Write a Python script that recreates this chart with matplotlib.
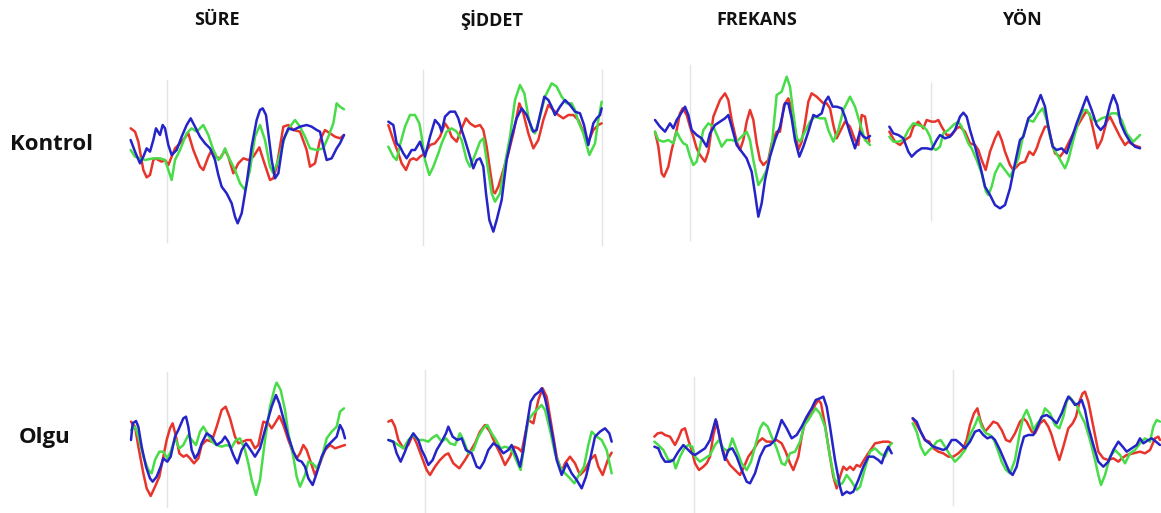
import matplotlib
matplotlib.use('Agg')
import matplotlib.pyplot as plt

# Column and row names
conditions = ['SÜRE', 'ŞİDDET', 'FREKANS', 'YÖN']
groups = ['Kontrol', 'Olgu']

# Grand average waveforms.
# x = sample index of the epoch, y = amplitude in 0.1 uV (positive up)

# ---- Kontrol / SÜRE
k_sure_red_x = [32, 45, 55, 70, 80, 90, 100, 108, 115, 125, 135, 145, 165, 185, 205, 220, 240, 250, 265, 275, 285, 300, 315, 325, 340, 355, 370, 385, 400, 418, 430, 450, 460, 470, 490, 505, 520, 540, 560, 570, 585, 600, 615, 630, 645, 660, 672]
k_sure_red_y = [65, 55, 25, -60, -82, -75, -30, -25, -30, -35, -30, -45, 5, 25, 50, 0, -50, -60, -20, 0, -20, -25, 0, -20, -70, -40, -25, -30, -20, 8, -30, -90, -85, -50, 70, 75, 60, 55, 0, -50, -40, 30, 60, 50, 40, 35, 45]
k_sure_green_x = [32, 45, 60, 75, 100, 120, 135, 150, 155, 165, 180, 200, 215, 230, 250, 265, 280, 295, 305, 315, 325, 345, 360, 375, 390, 405, 420, 435, 450, 460, 475, 495, 510, 525, 540, 555, 570, 590, 610, 625, 640, 650, 660, 672]
k_sure_green_y = [0, -20, -25, -30, -25, -25, -30, -75, -90, -30, 0, 50, 65, 55, 75, 45, 0, -30, -20, 5, -20, -60, -100, -120, -60, 40, 75, 30, -50, -70, -30, 40, 70, 90, 70, 40, 5, 0, 5, 40, 80, 140, 130, 122]
k_sure_blue_x = [32, 45, 60, 70, 80, 90, 100, 108, 120, 128, 135, 145, 155, 170, 185, 200, 212, 225, 240, 255, 270, 285, 295, 305, 320, 335, 345, 353, 365, 380, 395, 410, 420, 428, 438, 445, 455, 465, 475, 490, 505, 520, 540, 560, 575, 590, 600, 610, 620, 635, 650, 660, 672]
k_sure_blue_y = [30, -5, -40, -20, 5, -5, 30, 65, 45, 75, 65, 15, -15, 0, 40, 75, 95, 70, 40, 20, 5, -30, -75, -110, -130, -160, -200, -220, -190, -100, 10, 90, 120, 125, 105, 50, -30, -85, -70, 30, 65, 60, 70, 75, 70, 60, 55, 10, -30, -25, 5, 20, 45]

# ---- Kontrol / ŞİDDET
k_siddet_red_x = [25, 40, 55, 65, 78, 90, 100, 110, 120, 135, 150, 165, 180, 195, 205, 215, 230, 245, 258, 270, 285, 300, 310, 320, 330, 340, 345, 355, 370, 385, 400, 410, 418, 430, 445, 460, 475, 490, 505, 520, 535, 550, 565, 580, 595, 610, 625, 640, 655, 665]
k_siddet_red_y = [75, 30, -10, -40, -60, -30, -25, -30, -20, -10, 15, 20, 40, 80, 65, 40, 25, 65, 95, 80, 70, 75, 60, 10, -60, -125, -130, -110, -60, -10, 50, 100, 140, 110, 50, 5, 30, 90, 135, 120, 105, 95, 105, 105, 90, 55, 25, 60, 75, 80]
k_siddet_green_x = [25, 40, 50, 60, 75, 90, 105, 118, 125, 135, 148, 160, 175, 185, 200, 215, 230, 245, 260, 270, 285, 300, 310, 320, 335, 345, 360, 375, 390, 405, 420, 433, 445, 455, 465, 480, 495, 515, 530, 545, 560, 575, 585, 595, 610, 628, 645, 655, 665]
k_siddet_green_y = [10, -20, -30, 15, 70, 105, 105, 80, 40, -30, -75, -50, -10, 20, 55, 65, 55, 30, -30, -50, -15, 25, 35, -30, -130, -155, -130, -40, 40, 150, 195, 170, 100, 60, 50, 100, 160, 200, 190, 160, 140, 140, 120, 85, 50, -15, 20, 90, 145]
k_siddet_blue_x = [25, 40, 50, 60, 70, 80, 95, 105, 120, 135, 150, 165, 178, 185, 195, 210, 225, 235, 245, 255, 270, 280, 290, 300, 310, 318, 328, 340, 350, 365, 380, 395, 410, 425, 440, 450, 460, 470, 480, 493, 505, 515, 525, 540, 555, 570, 585, 600, 612, 625, 640, 650, 660, 665]
k_siddet_blue_y = [85, 75, 20, 10, -10, -25, 0, 0, 25, -20, 40, 90, 75, 55, 100, 115, 115, 95, 60, 30, -20, -55, -30, -25, -50, -130, -210, -245, -210, -150, -30, 40, 95, 125, 105, 80, 55, 60, 105, 160, 150, 130, 105, 130, 150, 135, 115, 110, 75, 15, 80, 95, 105, 125]

# ---- Kontrol / FREKANS
k_frekans_red_x = [45, 55, 65, 72, 85, 95, 110, 120, 128, 140, 150, 160, 170, 180, 195, 205, 220, 240, 255, 265, 275, 290, 300, 310, 320, 330, 340, 350, 360, 370, 385, 395, 410, 420, 432, 445, 455, 465, 475, 485, 495, 505, 515, 530, 540, 550, 560, 570, 580, 590, 600, 615, 630, 645, 655, 665, 675, 688]
k_frekans_red_y = [55, 10, -70, -80, -50, 0, 60, 110, 125, 105, 70, 40, 5, -15, -35, -5, 100, 150, 170, 150, 90, 25, 0, 30, 85, 120, 90, 20, -30, -45, -30, 20, 55, 55, 135, 155, 125, 60, 0, 25, 80, 145, 170, 160, 150, 140, 140, 125, 75, 35, 55, 85, 70, 30, 15, 105, 100, 25]
k_frekans_green_x = [45, 55, 70, 85, 100, 110, 120, 130, 140, 150, 160, 170, 180, 190, 205, 220, 235, 245, 260, 275, 290, 305, 320, 330, 340, 355, 365, 380, 395, 410, 425, 440, 450, 460, 470, 480, 495, 510, 525, 540, 555, 565, 580, 595, 610, 630, 645, 660, 675, 690]
k_frekans_green_y = [55, 30, 25, 30, 20, 55, 35, 20, 15, -20, -45, -35, 10, 60, 80, 70, 35, 10, 30, 30, 25, 40, 55, 30, -30, -105, -90, -60, 10, 165, 175, 220, 190, 110, 35, 25, 55, 85, 100, 95, 95, 60, 25, 60, 120, 160, 130, 80, 30, 15]
k_frekans_blue_x = [45, 60, 75, 90, 100, 110, 120, 135, 145, 155, 170, 185, 200, 210, 225, 240, 255, 265, 275, 290, 305, 320, 335, 345, 355, 365, 375, 390, 405, 420, 435, 445, 455, 465, 478, 490, 505, 520, 530, 545, 555, 565, 578, 590, 605, 615, 630, 645, 660, 670, 680, 690]
k_frekans_blue_y = [90, 70, 55, 80, 65, 90, 105, 130, 105, 60, 45, 35, 10, 50, 75, 85, 95, 105, 70, 15, -5, -25, -65, -130, -200, -160, -90, -20, 30, 70, 140, 140, 95, 30, -20, 10, 55, 105, 100, 110, 145, 160, 130, 130, 125, 100, 50, 5, 55, 40, 35, 42]

# ---- Kontrol / YÖN
k_yon_red_x = [28, 45, 60, 75, 90, 100, 115, 130, 140, 155, 165, 175, 185, 200, 215, 230, 240, 255, 270, 285, 295, 305, 317, 330, 345, 355, 365, 375, 390, 400, 410, 420, 435, 448, 460, 470, 480, 495, 505, 515, 525, 540, 555, 570, 585, 600, 618, 628, 640, 652, 665, 680, 690, 705, 720, 735, 745, 760, 780]
k_yon_red_y = [55, 25, 15, 30, 40, 70, 85, 65, 90, 85, 85, 90, 70, 45, 45, 65, 70, 55, 20, 15, 0, -30, -60, -5, 35, 55, 30, -5, -45, -60, -50, -40, -35, -5, -15, 5, 35, 70, 70, 25, -10, -20, 0, 30, 60, 85, 115, 110, 60, 5, 30, 85, 100, 70, 40, 15, 25, 15, 8]
k_yon_green_x = [28, 40, 55, 70, 85, 100, 115, 130, 140, 150, 160, 168, 180, 190, 205, 220, 235, 245, 255, 265, 275, 290, 305, 318, 325, 335, 345, 360, 375, 390, 400, 415, 430, 445, 460, 475, 488, 500, 510, 520, 535, 555, 565, 580, 595, 610, 620, 635, 650, 665, 680, 695, 710, 725, 740, 760, 780]
k_yon_green_y = [40, 25, 25, 30, 60, 80, 75, 70, 60, 40, 5, 0, 10, 50, 60, 75, 85, 70, 45, 20, 5, -30, -70, -125, -135, -110, -70, -40, -60, -80, -60, -25, 45, 90, 85, 110, 125, 90, 40, 5, -20, -55, -30, 30, 85, 120, 120, 95, 85, 95, 100, 110, 110, 90, 50, 25, 45]
k_yon_blue_x = [28, 40, 55, 70, 85, 95, 110, 125, 140, 155, 170, 180, 195, 210, 225, 240, 250, 260, 270, 285, 300, 315, 330, 345, 360, 375, 390, 405, 420, 430, 445, 460, 472, 482, 495, 505, 518, 530, 545, 560, 575, 590, 605, 620, 635, 650, 662, 675, 690, 700, 712, 722, 735, 750, 765, 780]
k_yon_blue_y = [70, 50, 45, 35, -5, -20, -5, 5, 5, 2, 30, 45, 35, 40, 60, 100, 112, 100, 60, 10, -45, -110, -135, -165, -175, -165, -115, -40, 30, 40, 95, 110, 140, 165, 130, 70, 10, 0, 5, -10, 35, 80, 120, 160, 120, 75, 60, 75, 135, 165, 135, 80, 50, 25, 10, 5]

# ---- Olgu / SÜRE
o_sure_red_x = [33, 45, 55, 70, 80, 92, 105, 118, 130, 140, 150, 158, 168, 178, 190, 200, 210, 222, 235, 245, 260, 275, 290, 305, 317, 330, 345, 355, 368, 380, 392, 405, 415, 430, 445, 455, 465, 478, 490, 505, 520, 530, 540, 550, 560, 570, 585, 600, 615, 630, 645, 660, 675]
o_sure_red_y = [55, 40, -20, -100, -145, -168, -140, -110, -50, 0, 35, 50, 10, -40, -50, -45, -55, -70, -55, -15, 0, -5, 40, 90, 100, 65, 10, -10, -5, 0, 0, -25, -15, 55, 50, 35, 50, 72, 45, 0, -40, -55, -40, -15, -30, -60, -105, -70, -30, -15, -25, -20, -15]
o_sure_green_x = [33, 45, 55, 70, 85, 95, 105, 118, 130, 142, 152, 165, 178, 190, 205, 215, 228, 240, 250, 262, 275, 290, 305, 320, 335, 348, 360, 375, 385, 395, 408, 420, 435, 450, 465, 470, 482, 495, 505, 520, 530, 540, 555, 565, 578, 590, 605, 620, 635, 650, 660, 672]
o_sure_green_y = [30, 40, 10, -50, -90, -100, -60, -35, -35, -55, -35, 5, -25, -15, 15, 0, -15, 25, 40, 20, -5, -15, -20, -15, -22, 0, 5, -30, -70, -120, -165, -120, 0, 100, 160, 172, 150, 90, 20, -50, -110, -140, -105, -65, -70, -85, -55, 5, 25, 40, 85, 95]
o_sure_blue_x = [33, 38, 48, 55, 65, 78, 90, 98, 110, 122, 130, 142, 152, 165, 175, 190, 198, 205, 215, 225, 235, 245, 260, 275, 290, 305, 315, 325, 340, 352, 365, 378, 392, 405, 420, 435, 455, 468, 478, 490, 505, 520, 533, 545, 555, 565, 578, 590, 605, 620, 635, 650, 660, 668, 675]
o_sure_blue_y = [0, 50, 57, 40, -20, -80, -115, -125, -110, -80, -55, -65, -50, 10, 30, 65, 70, 40, -30, -55, -40, -10, 20, 10, -15, -5, 10, -5, -45, -70, -30, -10, -30, -50, -25, 30, 100, 135, 110, 65, 10, -35, -60, -65, -80, -115, -135, -100, -50, -20, -5, 10, 45, 30, 5]

# ---- Olgu / ŞİDDET
o_siddet_red_x = [25, 35, 45, 55, 70, 85, 98, 110, 125, 140, 150, 165, 180, 195, 205, 220, 238, 255, 270, 285, 300, 315, 330, 345, 360, 375, 390, 402, 415, 425, 435, 445, 460, 475, 488, 500, 515, 530, 545, 555, 570, 585, 600, 615, 630, 645, 655, 668, 685, 695]
o_siddet_red_y = [55, 60, 40, 0, -25, -15, 15, -10, -50, -90, -105, -80, -60, -45, -40, -70, -85, -60, -35, -10, 25, 45, 25, -10, -40, -75, -50, -20, -25, -35, 15, 60, 50, 120, 155, 130, 40, -50, -95, -70, -50, -70, -105, -90, -60, -45, -80, -105, -55, -38]
o_siddet_green_x = [25, 40, 55, 70, 85, 100, 115, 130, 145, 155, 170, 185, 198, 210, 225, 240, 250, 265, 280, 295, 310, 322, 335, 348, 362, 375, 390, 400, 415, 422, 432, 445, 460, 475, 485, 495, 510, 525, 540, 555, 570, 583, 597, 612, 625, 635, 650, 665, 680, 695]
o_siddet_green_y = [0, -5, -15, -25, 0, 15, 0, 0, -5, 5, 15, -5, 5, -10, -15, 20, 0, -40, -30, 10, 35, 45, 20, 0, -25, -20, -25, -40, -75, -90, -20, 60, 80, 95, 105, 90, 30, -40, -80, -100, -115, -130, -105, -80, -15, 25, 10, 0, -30, -100]
o_siddet_blue_x = [25, 40, 50, 62, 75, 88, 100, 115, 125, 135, 145, 158, 170, 185, 198, 205, 218, 232, 245, 258, 275, 290, 300, 312, 325, 340, 355, 370, 385, 395, 410, 420, 430, 440, 452, 465, 478, 485, 495, 505, 520, 530, 545, 560, 575, 590, 605, 618, 630, 645, 660, 675, 688, 695]
o_siddet_blue_y = [0, -5, -40, -65, -35, 0, 20, 0, -30, -50, -75, -60, -30, -5, 20, 40, 10, 0, 5, -30, -40, -80, -85, -65, -30, -10, -20, -40, -30, -15, -50, -80, -30, 40, 115, 135, 145, 155, 125, 80, 0, -60, -105, -70, -100, -120, -145, -110, -60, 10, 25, 35, 20, -5]

# ---- Olgu / FREKANS
o_frekans_red_x = [28, 38, 50, 60, 75, 90, 100, 110, 120, 130, 140, 150, 162, 175, 185, 195, 205, 215, 225, 240, 255, 270, 285, 295, 310, 325, 340, 352, 365, 380, 395, 410, 422, 435, 445, 460, 470, 480, 490, 500, 510, 520, 528, 540, 555, 565, 575, 585, 595, 605, 615, 625, 635, 645, 660, 680, 690, 700, 715, 730, 740]
o_frekans_red_y = [10, 20, 22, 15, 10, -15, 5, 30, 35, 0, -30, -70, -90, -80, -70, -50, 15, 55, 0, -50, -75, -90, -105, -85, -50, -30, -5, 5, -5, -5, 0, -10, -35, -70, -90, -50, 10, 55, 70, 80, 105, 120, 110, 45, -50, -110, -145, -110, -80, -90, -80, -90, -75, -80, -55, -25, -10, -8, -5, -5, -10]
o_frekans_green_x = [28, 40, 55, 70, 85, 92, 105, 118, 130, 142, 150, 165, 180, 195, 210, 222, 235, 250, 262, 275, 290, 305, 318, 330, 345, 355, 368, 380, 395, 410, 420, 435, 450, 465, 478, 490, 502, 512, 525, 540, 555, 568, 580, 592, 605, 620, 635, 645, 660, 675, 690, 705, 720, 735, 740]
o_frekans_green_y = [-5, -15, -30, -60, -60, -85, -50, -25, -15, -20, -50, -65, -55, -45, -15, 0, -25, -35, 5, -30, -70, -90, -65, -20, 35, 52, 40, 10, -25, -70, -75, -40, -35, -5, 45, 60, 80, 95, 80, 40, -50, -115, -135, -130, -105, -125, -150, -140, -85, -35, -25, -40, -50, -15, -10]
o_frekans_blue_x = [28, 40, 50, 60, 75, 85, 100, 115, 125, 140, 150, 165, 180, 195, 212, 222, 232, 240, 250, 262, 275, 290, 305, 315, 330, 345, 360, 375, 390, 400, 410, 425, 440, 455, 470, 485, 500, 512, 525, 535, 545, 555, 570, 585, 592, 605, 615, 625, 640, 655, 670, 685, 700, 710, 720, 730, 740]
o_frekans_blue_y = [-20, -25, -50, -65, -65, -60, -35, -15, -25, -40, -45, -35, -25, 0, 62, 20, -30, -60, -30, -25, -50, -90, -125, -130, -100, -50, -20, -15, 0, 30, 60, 35, 5, 15, 40, 70, 95, 120, 125, 130, 100, 40, -60, -140, -165, -155, -160, -155, -120, -80, -50, -50, -60, -70, -40, -20, -40]

# ---- Olgu / YÖN
o_yon_red_x = [38, 50, 62, 75, 88, 100, 115, 130, 145, 160, 175, 190, 200, 210, 222, 232, 242, 255, 268, 280, 292, 305, 318, 330, 345, 360, 370, 380, 395, 405, 420, 432, 445, 455, 465, 478, 490, 505, 518, 528, 540, 548, 555, 565, 575, 585, 595, 610, 625, 640, 655, 665, 680, 700, 720, 735, 750, 765, 775, 780]
o_yon_red_y = [65, 45, 25, 0, -5, -25, -35, -40, -50, -50, -40, -25, 0, 45, 80, 95, 55, 25, 40, 55, 50, 30, 0, -5, 20, 55, 65, 55, 25, 20, 50, 60, 40, 15, -20, -60, -20, 35, 50, 70, 120, 140, 145, 115, 65, 15, -35, -55, -60, -55, -65, -55, -45, -40, -35, -40, -30, 5, 10, 0]
o_yon_green_x = [38, 50, 62, 75, 88, 100, 110, 122, 135, 150, 165, 180, 195, 210, 225, 235, 245, 258, 270, 282, 295, 305, 318, 330, 345, 360, 370, 380, 392, 400, 412, 425, 435, 450, 465, 478, 490, 500, 508, 520, 530, 540, 555, 570, 585, 595, 603, 615, 630, 645, 660, 675, 690, 705, 720, 735, 750, 760, 770, 780]
o_yon_green_y = [50, 25, -20, -45, -30, -20, -5, 0, -20, -45, -65, -50, -30, 15, 45, 70, 40, 20, 15, 0, -35, -65, -90, -100, -60, 25, 70, 90, 60, 30, 50, 65, 95, 80, 45, 35, 70, 115, 130, 115, 105, 80, 50, 0, -60, -105, -135, -105, -50, -30, -45, -70, -40, -30, -10, 5, -5, 40, 60, 55]
o_yon_blue_x = [38, 50, 62, 75, 88, 100, 115, 130, 140, 155, 168, 180, 195, 210, 225, 238, 250, 262, 275, 285, 300, 315, 328, 338, 350, 362, 372, 385, 400, 410, 425, 440, 455, 470, 485, 498, 505, 515, 525, 535, 545, 555, 565, 580, 595, 610, 625, 640, 655, 668, 680, 695, 710, 720, 730, 745, 755, 768, 780]
o_yon_blue_y = [65, 55, 25, 0, -10, -20, -25, -30, -25, 0, 0, -10, -25, -5, 25, 30, 15, 5, 10, 0, -30, -65, -95, -105, -80, -25, 10, 15, 15, 35, 70, 75, 65, 50, 80, 115, 130, 120, 105, 110, 120, 90, 40, -15, -65, -80, -65, -30, -5, -20, -35, -25, -15, 5, -10, 0, 5, -5, -15]

# stimulus onset sample of each panel
onsets = [[140, 130, 150, 153], [140, 135, 148, 160]]

series = [
    [(k_sure_red_x, k_sure_red_y, k_sure_green_x, k_sure_green_y, k_sure_blue_x, k_sure_blue_y),
     (k_siddet_red_x, k_siddet_red_y, k_siddet_green_x, k_siddet_green_y, k_siddet_blue_x, k_siddet_blue_y),
     (k_frekans_red_x, k_frekans_red_y, k_frekans_green_x, k_frekans_green_y, k_frekans_blue_x, k_frekans_blue_y),
     (k_yon_red_x, k_yon_red_y, k_yon_green_x, k_yon_green_y, k_yon_blue_x, k_yon_blue_y)],
    [(o_sure_red_x, o_sure_red_y, o_sure_green_x, o_sure_green_y, o_sure_blue_x, o_sure_blue_y),
     (o_siddet_red_x, o_siddet_red_y, o_siddet_green_x, o_siddet_green_y, o_siddet_blue_x, o_siddet_blue_y),
     (o_frekans_red_x, o_frekans_red_y, o_frekans_green_x, o_frekans_green_y, o_frekans_blue_x, o_frekans_blue_y),
     (o_yon_red_x, o_yon_red_y, o_yon_green_x, o_yon_green_y, o_yon_blue_x, o_yon_blue_y)],
]

# ---- layout (pixels of a 1161 x 513 canvas)
W, H = 1161, 513
col_left = [[120, 380, 640, 880], [120, 380, 645, 900]]
col_width = [[240, 240, 240, 270], [240, 245, 250, 261]]
row_top = [60, 360]
row_height = [190, 153]
row_ylim = [(-300, 270), (-219, 240)]
# vertical extent of the light onset line (axes fraction)
onset_span = [[(0.044, 0.895), (0.026, 0.947), (0.053, 0.974), (0.158, 0.877)],
              [(0.041, 0.924), (0.0, 0.935), (0.009, 0.891), (0.052, 0.935)]]

colors = ['#e8352c', '#48dc48', '#2424c8']

plt.rcParams['font.family'] = ['Open Sans', 'DejaVu Sans']
fig = plt.figure(figsize=(W / 100, H / 100), dpi=100)
fig.patch.set_facecolor('white')

for r in range(2):
    for c in range(4):
        left = col_left[r][c]
        width = col_width[r][c]
        ax = fig.add_axes([left / W, 1 - (row_top[r] + row_height[r]) / H,
                           width / W, row_height[r] / H])
        ax.set_xlim(0, width * 3)
        ax.set_ylim(*row_ylim[r])
        ax.axis('off')
        lo, hi = onset_span[r][c]
        ax.axvline(onsets[r][c], ymin=lo, ymax=hi, color='#e4e4e4', lw=1.0, zorder=0)
        if r == 0 and c == 1:
            ax.axvline(665, ymin=0.026, ymax=0.947, color='#e4e4e4', lw=1.0, zorder=0)
        s = series[r][c]
        for i, col in enumerate(colors):
            ax.plot(s[2 * i], s[2 * i + 1], color=col, lw=1.8,
                    solid_joinstyle='round', solid_capstyle='round')

# column titles
header_x = [217, 492, 757, 1022]
for name, x in zip(conditions, header_x):
    fig.text(x / W, 1 - 20 / H, name, ha='center', va='center',
             fontsize=13, fontweight='bold', color='#111111')

# row labels
fig.text(10 / W, 1 - 145 / H, groups[0], ha='left', va='center',
         fontsize=16, fontweight='bold', color='#111111')
fig.text(19 / W, 1 - 437 / H, groups[1], ha='left', va='center',
         fontsize=16, fontweight='bold', color='#111111')

fig.savefig('out.png', dpi=100, facecolor='white')
